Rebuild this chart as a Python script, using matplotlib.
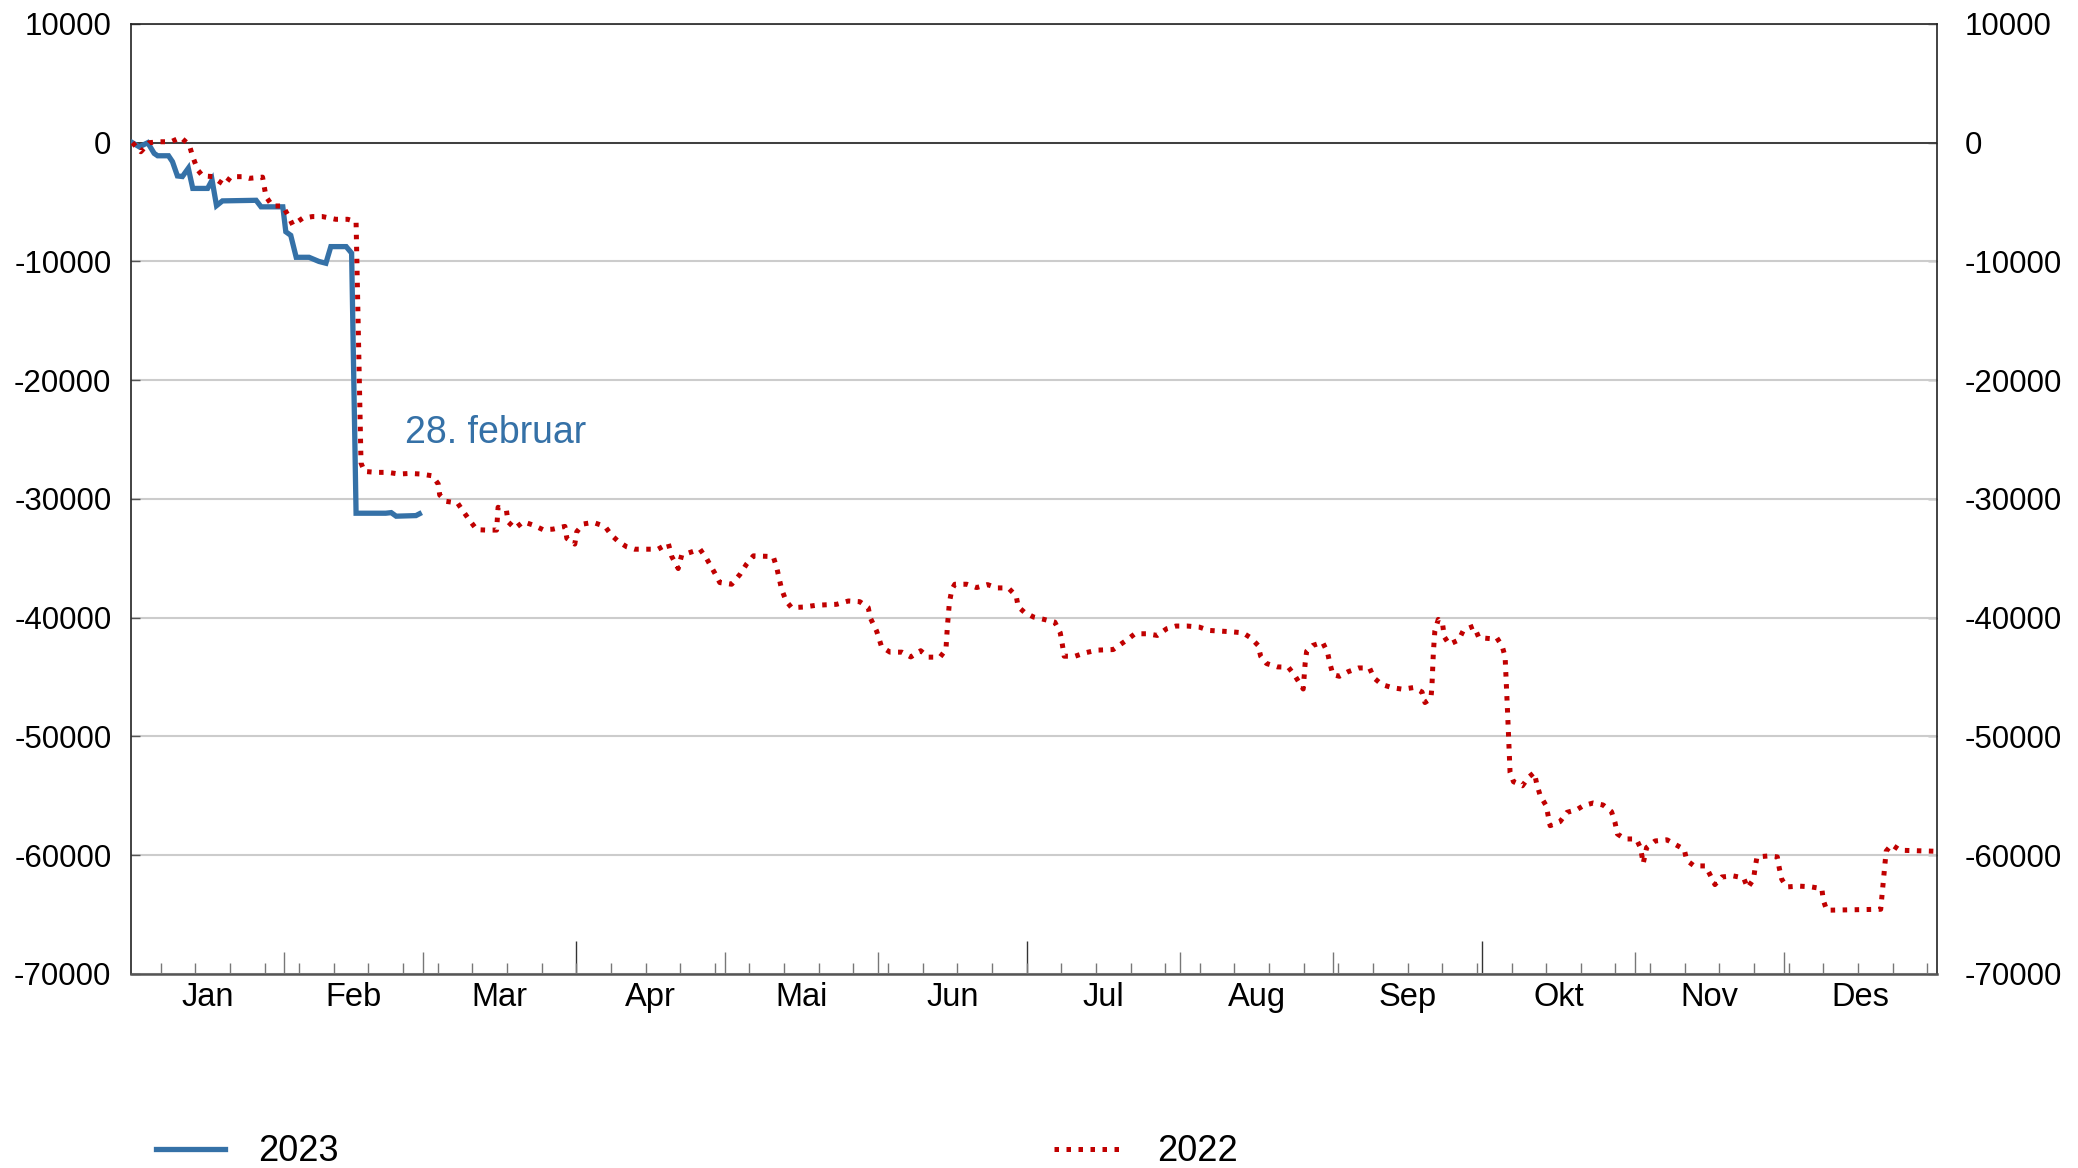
import matplotlib

matplotlib.use("Agg")
import matplotlib.pyplot as plt  # noqa: E402
import numpy as np  # noqa: E402

plt.rcParams["font.family"] = ["Liberation Sans", "DejaVu Sans"]

BLUE = "#3571a7"
RED = "#c00000"

# day of year (0 = 1 Jan) and cumulative value
days_2023 = [0.3, 1.7, 3.4, 4.7, 5.4, 7.6, 8.4, 9.4, 10.4, 11.6, 12.5, 15.5, 16.4,
             17.3, 18.5, 25.3, 26.3, 30.7, 31.3, 32.3, 33.4, 36.0, 38.0, 39.4, 40.4,
             43.5, 44.6, 45.5, 51.5, 52.6, 53.6, 57.6, 58.3]
vals_2023 = [0, -350, 0, -900, -1100, -1100, -1600, -2800, -2850, -2150, -3850, -3850,
             -3150, -5300, -4900, -4850, -5400, -5400, -7500, -7800, -9650, -9650,
             -10000, -10150, -8750, -8750, -9300, -31200, -31200, -31150, -31450,
             -31400, -31250]

days_2022 = [0.3, 2.0, 3.7, 5.7, 8.1, 10.1, 11.8, 12.5, 13.5, 14.5, 16.5, 17.9, 18.9,
             20.2, 22.6, 23.9, 26.6, 27.3, 28.6, 30.7, 31.7, 32.7, 34.7, 36.7, 38.7,
             41.4, 43.8, 45.5, 46.5, 47.2, 49.5, 51.9, 54.2, 56.3, 58.6, 60.9, 62.1,
             62.4, 63.7, 66.0, 67.2, 68.5, 69.9, 71.9, 73.9, 74.2, 75.9, 76.2, 77.6,
             79.3, 81.3, 83.3, 85.3, 87.7, 88.1, 89.7, 90.1, 91.4, 93.4, 95.8, 97.1,
             98.5, 100.2, 101.8, 106.5, 108.6, 109.3, 110.6, 111.3, 115.0, 116.4,
             118.0, 119.0, 121.4, 123.1, 124.4, 125.8, 129.8, 130.5, 131.5, 132.4,
             133.5, 136.0, 138.5, 142.6, 145.0, 147.3, 149.0, 149.4, 150.7, 151.7,
             153.4, 155.8, 157.6, 159.6, 161.1, 163.5, 164.7, 165.0, 165.4, 165.9,
             166.5, 168.9, 170.9, 173.1, 175.0, 177.3, 178.9, 179.3, 180.5, 182.4,
             184.5, 186.7, 187.8, 188.2, 188.6, 190.8, 192.8, 195.2, 198.5, 201.2,
             202.9, 205.3, 207.4, 209.3, 211.2, 213.5, 215.9, 217.9, 222.3, 224.7,
             226.3, 227.8, 228.3, 229.5, 231.7, 233.9, 235.2, 236.9, 237.3, 237.6,
             238.8, 240.8, 241.8, 242.3, 242.9, 244.2, 246.0, 248.1, 250.3, 251.2,
             252.8, 255.0, 257.0, 259.2, 260.9, 261.5, 262.7, 262.9, 263.2, 263.5,
             264.2, 265.1, 265.4, 266.4, 268.3, 269.3, 271.4, 272.4, 274.7, 276.0,
             277.1, 277.7, 278.2, 278.7, 279.4, 281.2, 282.4, 283.6, 284.1, 284.8,
             286.0, 286.8, 288.8, 290.2, 292.2, 293.5, 295.5, 297.5, 299.2, 299.9,
             300.4, 301.9, 304.2, 305.1, 305.6, 306.3, 308.0, 310.4, 312.2, 313.9,
             314.4, 315.9, 318.2, 319.1, 320.1, 321.5, 323.8, 325.9, 326.7, 327.9,
             328.2, 328.6, 330.9, 332.7, 333.1, 333.6, 334.6, 337.0, 339.3, 341.7,
             342.0, 342.7, 353.6, 354.7, 355.8, 357.5, 364.3]
vals_2022 = [0, -760, 0, 80, 80, 450, -200, -1180, -2300, -2800, -2850, -3280, -3560,
             -2860, -2860, -3000, -2900, -4540, -5330, -5330, -6080, -6930, -6360,
             -6220, -6220, -6450, -6450, -6650, -26980, -27680, -27760, -27760,
             -27900, -27850, -27900, -28050, -28730, -29660, -30200, -30340, -31070,
             -31830, -32590, -32620, -32620, -30700, -30990, -31920, -32480, -31920,
             -32200, -32590, -32540, -32310, -33320, -33800, -32760, -32110, -31970,
             -32310, -33040, -33580, -34030, -34230, -34230, -33750, -34850, -35860,
             -34730, -34230, -35070, -36250, -37040, -37180, -36340, -35490, -34790,
             -34850, -35770, -37610, -38590, -39150, -39100, -38950, -38870, -38590,
             -38650, -39150, -40000, -41130, -42450, -42900, -42900, -43300, -42780,
             -43320, -43320, -42680, -40700, -38730, -37610, -37180, -37180, -37460,
             -37210, -37490, -37490, -38170, -39070, -39520, -39940, -40140, -40370,
             -41270, -42200, -43240, -43240, -42960, -42730, -42680, -41890, -41350,
             -41350, -41490, -40930, -40700, -40700, -40790, -41070, -41180, -41270,
             -41690, -42340, -43240, -43860, -44140, -44170, -44870, -46000, -43800,
             -42820, -42340, -42060, -42900, -43860, -44790, -44930, -44540, -44230,
             -44230, -45070, -45630, -45900, -46020, -45880, -46250, -47140, -46810,
             -45880, -42940, -41120, -40140, -40640, -41600, -42240, -41880, -41040,
             -40700, -41680, -41760, -41680, -42380, -43280, -47980, -53030, -53810,
             -54150, -53450, -53030, -54010, -54990, -55830, -57510, -57170, -56390,
             -56160, -55830, -55600, -55770, -56330, -57230, -58210, -58630, -58630,
             -59410, -60700, -59350, -58800, -58700, -59120, -59510, -60430, -60900,
             -60900, -61630, -62470, -61830, -61740, -61910, -62750, -62020, -61120,
             -60140, -60060, -60140, -61070, -62020, -62670, -62600, -62650, -62810,
             -63790, -64630, -64550, -59660, -59100, -59580, -59660]

month_labels = ["Jan", "Feb", "Mar", "Apr", "Mai", "Jun", "Jul", "Aug", "Sep",
                "Okt", "Nov", "Des"]
month_days = [31, 28, 31, 30, 31, 30, 31, 31, 30, 31, 30, 31]
y_ticks = list(range(-70000, 10001, 10000))


def main():
    fig = plt.figure(figsize=(20.78, 11.68), dpi=100)
    ax = fig.add_axes([0.0630, 0.1661, 0.8692, 0.8134])

    ax.set_xlim(0, 365)
    ax.set_ylim(-70000, 10000)

    ax.grid(axis="y", color="#cccccc", linewidth=1.5, zorder=0)
    ax.set_axisbelow(True)
    ax.axhline(0, color="#333333", linewidth=1.3, zorder=1)

    l23, = ax.plot(days_2023, vals_2023, color=BLUE, linewidth=3.8,
                   solid_joinstyle="miter", zorder=3)
    l22, = ax.plot(days_2022, vals_2022, color=RED, linewidth=3.6,
                   linestyle=(0, (0.9, 1.5)), zorder=4)

    ax.text(55.4, -24450, "28. februar", color=BLUE, fontsize=27,
            ha="left", va="center")

    # month / week / quarter ticks along the bottom
    starts = np.concatenate([[0], np.cumsum(month_days)[:-1]])
    quarter = [s for i, s in enumerate(starts) if i in (3, 6, 9)]
    monthly = [s for i, s in enumerate(starts) if i not in (0, 3, 6, 9)]
    mids = starts + np.array(month_days) / 2.0

    ax.set_xticks(monthly)
    ax.set_xticks(np.arange(6, 365, 7), minor=True)
    ax.tick_params(axis="x", which="major", direction="in", length=15.5,
                   width=1.0, color="#777777", labelbottom=False)
    ax.tick_params(axis="x", which="minor", direction="in", length=7.8,
                   width=1.0, color="#777777")

    qax = ax.secondary_xaxis("bottom")
    qax.set_xticks(quarter)
    qax.tick_params(direction="in", length=23.5, width=1.0, color="#333333",
                    labelbottom=False)
    qax.spines["bottom"].set_visible(False)

    lax = ax.secondary_xaxis("bottom")
    lax.set_xticks(mids, month_labels)
    lax.tick_params(length=0, pad=6, labelsize=23.5)
    lax.spines["bottom"].set_visible(False)

    ylabels = [str(v) for v in y_ticks]
    ax.set_yticks(y_ticks, ylabels)
    ax.tick_params(axis="y", direction="in", length=6.5, width=1.0,
                   color="#555555", labelsize=22.5, pad=14)

    rax = ax.secondary_yaxis("right")
    rax.set_yticks(y_ticks, ylabels)
    rax.tick_params(direction="in", length=6.5, width=1.0, color="#555555",
                    labelsize=22.5, pad=20)
    rax.spines["right"].set_visible(False)

    for side in ("left", "right", "top"):
        ax.spines[side].set_color("#222222")
        ax.spines[side].set_linewidth(1.2)
    ax.spines["bottom"].set_color("#555555")
    ax.spines["bottom"].set_linewidth(1.8)

    fig.legend(handles=[l23, l22], labels=["2023", "2022"], loc="center left",
               bbox_to_anchor=(0.0751, 0.0140), ncol=2, frameon=False,
               fontsize=26, handlelength=1.92, handletextpad=0.92,
               columnspacing=19.8, borderpad=0, borderaxespad=0)

    fig.savefig("out.png", dpi=100)


if __name__ == "__main__":
    main()
